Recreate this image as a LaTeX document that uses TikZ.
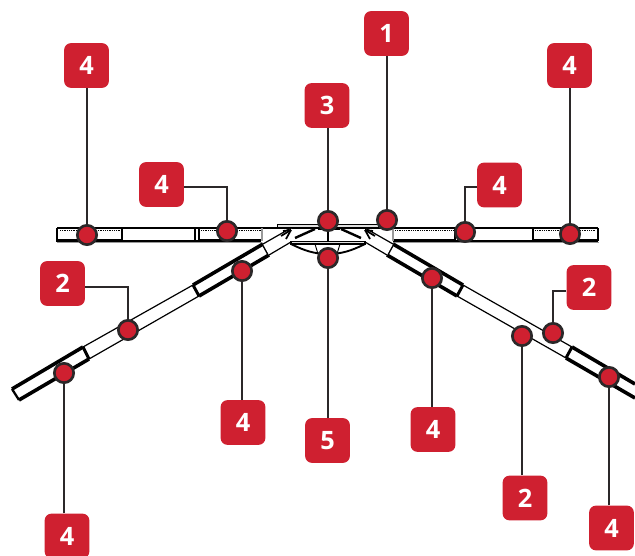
\documentclass[tikz,border=0pt]{standalone}
\usepackage{fontspec}
\setmainfont{Open Sans}
\definecolor{tagred}{HTML}{CF2030}
\definecolor{ink}{HTML}{2B2829}
\tikzset{
  tag/.style={fill=tagred,rounded corners=5pt,minimum size=33.5pt,inner sep=0pt,text=white,font=\fontsize{19}{19}\selectfont\bfseries},
  dot/.style={circle,fill=tagred,draw=ink,line width=2pt,minimum size=14.5pt,inner sep=0pt},
  lead/.style={draw=ink,line width=2.2pt},
  thinbeam/.style={draw=black,line width=.9pt},
  thickbeam/.style={draw=black,line width=2.7pt},
  tick/.style={draw=black,line width=2.2pt},
  dotline/.style={draw=black,line width=.9pt,dash pattern=on .8pt off .55pt},
  palebar/.style={draw=black,line width=.6pt,fill=black!12},
  greyedge/.style={draw=black!40,line width=.9pt},
}
\begin{document}
\begin{tikzpicture}[x=.75pt,y=-.75pt]
\useasboundingbox (0,0) rectangle (635,556);
% --- left horizontal member
\draw[thinbeam] (57,228) -- (378,228);
\draw[thickbeam] (57,240.5) -- (122,240.5);
\draw[thinbeam] (122,241) -- (200,241);
\draw[thickbeam] (199,240.5) -- (261,240.5);
\draw[thickbeam,line width=2.2pt] (57,228) -- (57,242);
\draw[tick,line width=1.7pt] (122,228) -- (122,241);
\draw[thinbeam] (195,228) -- (195,241);
\draw[tick,line width=1.6pt] (199,228) -- (199,241);
\draw[greyedge] (262,228) -- (262,241);
\draw[dotline] (60,230.5) -- (121,230.5);
\draw[dotline] (201,230.5) -- (261,230.5);
\draw[greyedge] (57,242.6) -- (262,242.6);
% --- right horizontal member
\draw[thinbeam] (378,228) -- (598,228);
\draw[thickbeam] (393,240.5) -- (455,240.5);
\draw[thinbeam] (455,241) -- (533,241);
\draw[thickbeam] (533,240.5) -- (598,240.5);
\draw[greyedge] (393,228) -- (393,241);
\draw[tick,line width=1.6pt] (455,228) -- (455,241);
\draw[tick,line width=1.8pt] (533,228) -- (533,241);
\draw[tick,line width=1.8pt] (598,228) -- (598,241);
\draw[dotline] (395,230.5) -- (454,230.5);
\draw[dotline] (535,230.5) -- (596,230.5);
\draw[greyedge] (393,242.6) -- (599,242.6);
% --- left diagonal member
\draw[thickbeam] (12,389) -- (83,347);
\draw[thickbeam] (19,400) -- (89,359);
\draw[tick,line width=1.7pt] (12,389) -- (19,400);
\draw[tick] (83,347) -- (89,359);
\draw[thinbeam] (83,347) -- (193,285);
\draw[thinbeam] (89,359) -- (199,296);
\draw[tick] (193,285) -- (199,296);
\draw[thickbeam] (193,285) -- (263,244);
\draw[thickbeam] (199,296) -- (269,255);
\draw[tick] (263,244) -- (269,255);
\draw[fill=white,draw=none] (263,244) -- (291,228) -- (291,242) -- (269,255) -- cycle;
\draw[thinbeam] (263,244) -- (291,228);
\draw[thinbeam] (269,255) -- (291,242);
% --- right diagonal member
\draw[tick] (393,244) -- (387,255);
\draw[thickbeam] (393,244) -- (463,285);
\draw[thickbeam] (387,255) -- (457,296);
\draw[tick] (463,285) -- (457,296);
\draw[thinbeam] (463,285) -- (572,347);
\draw[thinbeam] (457,296) -- (566,358);
\draw[tick] (572,347) -- (566,358);
\draw[thickbeam] (572,347) -- (635,384);
\draw[thickbeam] (566,358) -- (635,398);
\draw[fill=white,draw=none] (393,244) -- (365,228) -- (365,242) -- (387,255) -- cycle;
\draw[thinbeam] (393,244) -- (365,228);
\draw[thinbeam] (387,255) -- (365,242);
% --- centre joint
\draw[palebar] (277,224) rectangle (378,227);
\draw[black,line width=.8pt,fill=black!12] (291,241.5) rectangle (365,244);
\draw[black,line width=1.4pt] (291,244) .. controls (305,251) and (315,254) .. (328,254) .. controls (341,254) and (351,251) .. (365,244);
\draw[black,line width=.7pt] (315,244) -- (318,254);
\draw[black,line width=.7pt] (340,244) -- (337,254);
\draw[black,line width=1.8pt] (295,238) -- (315,229);
\draw[black,line width=1.8pt] (361,238) -- (341,229);
\draw[black,line width=.9pt] (328,228) -- (328,241);
\draw[black,line width=1.4pt] (318,229) -- (340,229);
\draw[black,line width=1.3pt] (291,230) -- (281,236);
\draw[black,line width=1.3pt] (291,230) -- (283,231);
\draw[black,line width=1.3pt] (291,230) -- (286,239);
\draw[black,line width=1.3pt] (365,230) -- (375,236);
\draw[black,line width=1.3pt] (365,230) -- (373,231);
\draw[black,line width=1.3pt] (365,230) -- (370,239);
% --- tags
\node[tag] (t1)  at (386.5,33.5) {1};
\node[tag] (t4a) at (86.5,65.5) {4};
\node[tag] (t3)  at (327,105.5) {3};
\node[tag] (t4b) at (569.5,65.5) {4};
\node[tag] (t4c) at (161.5,184.5) {4};
\node[tag] (t4d) at (499.5,185) {4};
\node[tag] (t2a) at (62.5,283.5) {2};
\node[tag] (t2b) at (589,287.5) {2};
\node[tag] (t4e) at (243,422.5) {4};
\node[tag] (t5)  at (327.5,440.5) {5};
\node[tag] (t4f) at (433,429.5) {4};
\node[tag] (t2c) at (525,498) {2};
\node[tag] (t4g) at (67,536) {4};
\node[tag] (t4h) at (611.5,528) {4};
% --- dots
\node[dot] (d4a) at (87,235) {};
\node[dot] (d4c) at (227,231) {};
\node[dot] (d3)  at (328,221) {};
\node[dot] (d1)  at (387,220) {};
\node[dot] (d4d) at (465,232) {};
\node[dot] (d4b) at (570,234) {};
\node[dot] (d4g) at (64,373) {};
\node[dot] (d2a) at (128,330) {};
\node[dot] (d4e) at (242,271) {};
\node[dot] (d5)  at (328,258) {};
\node[dot] (d4f) at (432,278) {};
\node[dot] (d2c) at (522,336) {};
\node[dot] (d2b) at (553,333) {};
\node[dot] (d4h) at (609,377) {};
% --- elbows
\coordinate (e4c) at (227,187);
\coordinate (e4d) at (465,187);
\coordinate (e2a) at (128,287);
\coordinate (e2b) at (553,291);
% --- leaders
\draw[lead] (t1.south -| d1) -- (d1);
\draw[lead] (t4a.south -| d4a) -- (d4a);
\draw[lead] (t3.south -| d3) -- (d3);
\draw[lead] (t4b.south -| d4b) -- (d4b);
\draw[lead] (t4e.north -| d4e) -- (d4e);
\draw[lead] (t5.north -| d5) -- (d5);
\draw[lead] (t4f.north -| d4f) -- (d4f);
\draw[lead] (t2c.north -| d2c) -- (d2c);
\draw[lead] (t4g.north -| d4g) -- (d4g);
\draw[lead] (t4h.north -| d4h) -- (d4h);
\draw[lead] (t4c.east |- e4c) -- (e4c) -- (d4c);
\draw[lead] (t4d.west |- e4d) -- (e4d) -- (d4d);
\draw[lead] (t2a.east |- e2a) -- (e2a) -- (d2a);
\draw[lead] (t2b.west |- e2b) -- (e2b) -- (d2b);
\end{tikzpicture}
\end{document}
